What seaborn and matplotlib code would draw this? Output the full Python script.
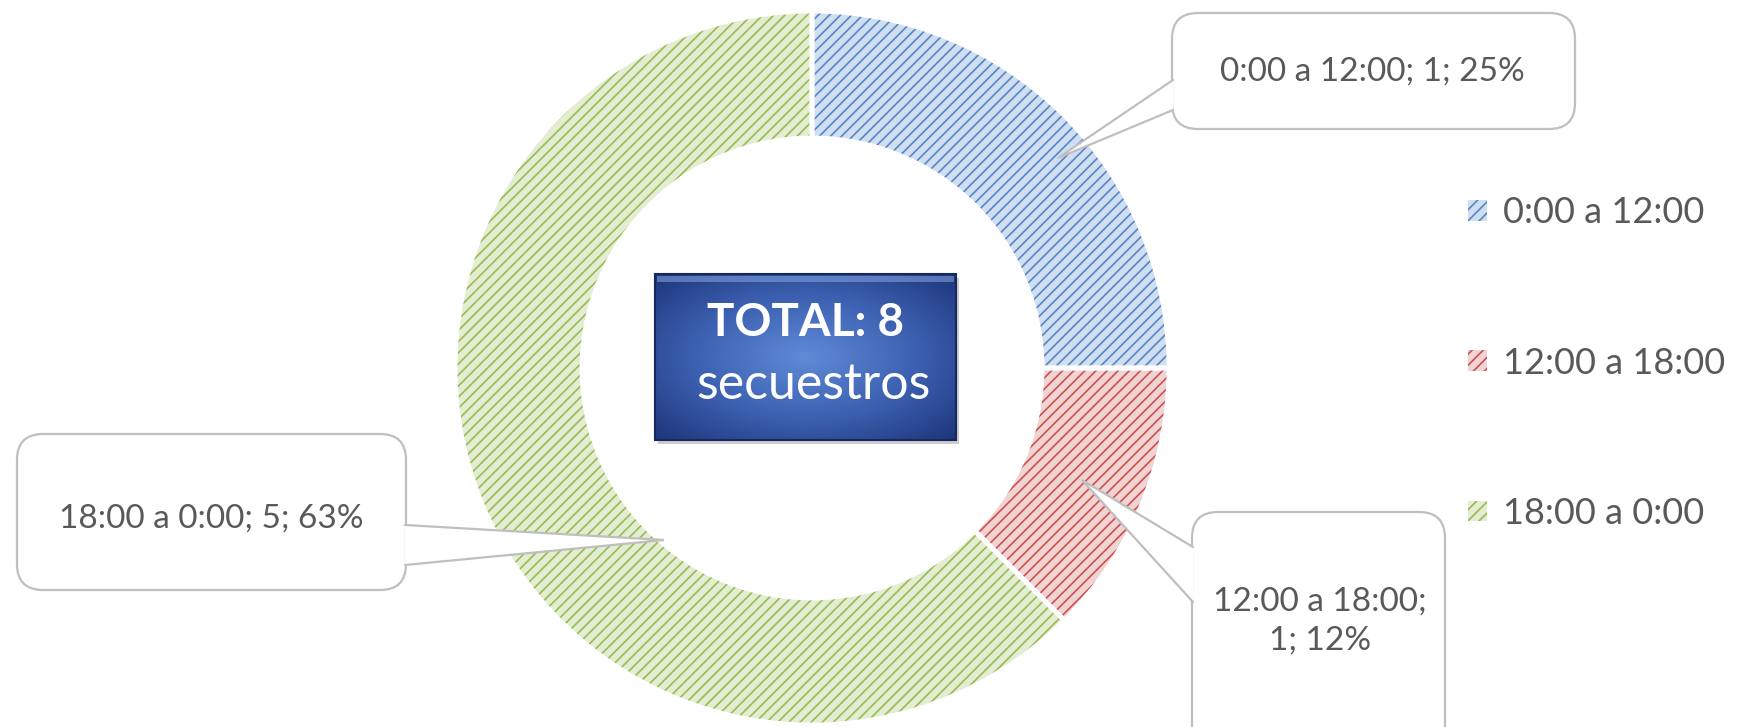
import numpy as np
import matplotlib
matplotlib.use("Agg")
import matplotlib.pyplot as plt
import seaborn as sns
from matplotlib.patches import FancyBboxPatch, Polygon, Rectangle
from matplotlib.colors import LinearSegmentedColormap

categories = ["0:00 a 12:00", "12:00 a 18:00", "18:00 a 0:00"]
counts = [2, 1, 5]
callout_texts = ["0:00 a 12:00; 1; 25%", "12:00 a 18:00;\n1; 12%", "18:00 a 0:00; 5; 63%"]
fill_colors = ["#d0def1", "#f2d3d3", "#e3edd1"]
hatch_colors = ["#5585c4", "#c9524f", "#98bb55"]
total_title = "TOTAL: 8"
total_sub = "secuestros"

sns.set_style("white")
plt.rcParams["font.family"] = ["Lato", "DejaVu Sans"]
plt.rcParams["hatch.linewidth"] = 1.2
TXT = "#595959"

W, H = 1745, 727
fig = plt.figure(figsize=(W / 100, H / 100), dpi=100)
ax = fig.add_axes([0, 0, 1, 1])

cx, cy, R = 812, 368, 357
ring = 127

# hatched ring (y axis is inverted, so angles run visually clockwise from the top)
wedges, _ = ax.pie(counts, colors=fill_colors, startangle=-90, counterclock=True,
                   center=(cx, cy), radius=R, frame=True,
                   wedgeprops=dict(width=ring, linewidth=0, hatch="///"))
for w, hc in zip(wedges, hatch_colors):
    w.set_edgecolor(hc)
ax.pie(counts, colors=["none"] * 3, startangle=-90, counterclock=True,
       center=(cx, cy), radius=R, frame=True,
       wedgeprops=dict(width=ring, linewidth=3.5, edgecolor="white", fill=False))

# center label box with radial gradient
bx0, by0, bx1, by1 = 655, 274, 956, 440
ax.add_patch(Rectangle((bx0 + 3, by0 + 4), bx1 - bx0, by1 - by0, color="#9a9a9a",
                       alpha=0.5, zorder=4, lw=0))
gx, gy = np.meshgrid(np.linspace(-1, 1, 300), np.linspace(-1, 1, 170))
grad = np.sqrt(gx ** 2 + gy ** 2) / np.sqrt(2)
cmap = LinearSegmentedColormap.from_list("blu", ["#5f8ad6", "#3e62b3", "#1d357a"])
ax.imshow(grad, cmap=cmap, extent=(bx0, bx1, by1, by0), zorder=5,
          interpolation="bilinear", aspect="auto")
ax.add_patch(Rectangle((bx0, by0), bx1 - bx0, by1 - by0, fill=False,
                       edgecolor="#16285e", lw=1.5, zorder=6))
ax.add_patch(Rectangle((bx0 + 2, by0 + 2), bx1 - bx0 - 4, 6, color="#8fb0ea",
                       alpha=0.5, zorder=6, lw=0))
ax.text(806, 323, total_title, color="white", fontsize=33, fontweight="bold",
        ha="center", va="center", zorder=7)
ax.text(813, 385, total_sub, color="white", fontsize=36, ha="center",
        va="center", zorder=7)


def callout(box, tip, attach, text, tx, ty):
    x0, y0, x1, y1 = box
    ax.add_patch(FancyBboxPatch((x0 + 26, y0 + 26), x1 - x0 - 52, y1 - y0 - 52,
                                boxstyle="round,pad=26", facecolor="white",
                                edgecolor="#bfbfbf", lw=1.6, zorder=8,
                                clip_on=True))
    (ax_, ay_), (bx_, by_) = attach
    ax.add_patch(Polygon([(ax_, ay_), tip, (bx_, by_)], closed=True,
                         facecolor="white", edgecolor="none", zorder=9))
    ax.plot([ax_, tip[0], bx_], [ay_, tip[1], by_], color="#bfbfbf", lw=1.6,
            zorder=10, solid_joinstyle="miter")
    ax.text(tx, ty, text, color=TXT, fontsize=24, ha="center", va="center",
            zorder=11, linespacing=1.4)


callout((1172, 13, 1575, 129), (1058, 158), ((1173, 80), (1173, 110)),
        callout_texts[0], 1372, 72)
callout((1192, 512, 1445, 770), (1082, 480), ((1193, 547), (1193, 602)),
        callout_texts[1], 1320, 621)
callout((17, 434, 406, 590), (664, 540), ((405, 525), (405, 565)),
        callout_texts[2], 211, 519)

# legend
leg = ax.legend(wedges, categories, loc="center left",
                bbox_to_anchor=(1454 / W, 1 - 363 / H), frameon=False,
                fontsize=26, labelspacing=3.25, handlelength=0.5,
                handleheight=0.5, handletextpad=0.45, borderaxespad=0)
for t in leg.get_texts():
    t.set_color(TXT)

ax.set_xlim(0, W)
ax.set_ylim(H, 0)
ax.set_aspect("equal")
ax.axis("off")

fig.savefig("out.png", dpi=100)
